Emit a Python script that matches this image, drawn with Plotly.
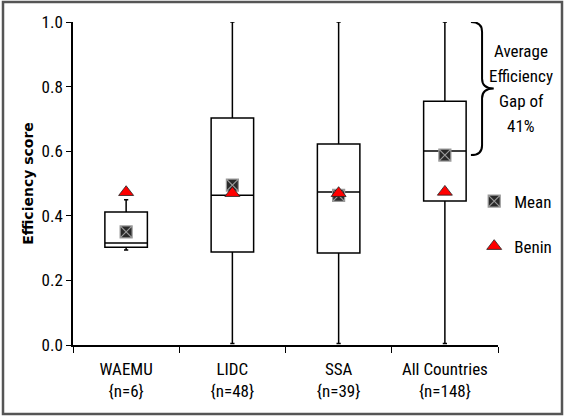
import plotly.graph_objects as go

categories = ["WAEMU<br>{n=6}", "LIDC<br>{n=48}", "SSA<br>{n=39}", "All Countries<br>{n=148}"]
q1 = [0.303, 0.288, 0.285, 0.446]
median = [0.316, 0.464, 0.474, 0.601]
q3 = [0.412, 0.703, 0.622, 0.755]
lower = [0.294, 0.005, 0.005, 0.005]
upper = [0.45, 1.0, 1.0, 1.0]
mean = [0.350, 0.495, 0.463, 0.588]
benin = [0.473, 0.470, 0.470, 0.474]
gap_lines = ["Average", "Efficiency", "Gap of", "41%"]

FONT = "Roboto Condensed, Liberation Sans Narrow, Open Sans, sans-serif"

fig = go.Figure()
fig.add_trace(go.Box(
    x=categories, q1=q1, median=median, q3=q3,
    lowerfence=lower, upperfence=upper,
    fillcolor="white", line=dict(color="black", width=1.5),
    whiskerwidth=0.1, width=0.4, showlegend=False, hoverinfo="skip",
))
fig.add_trace(go.Scatter(
    x=categories, y=mean, mode="markers", name="Mean", legendgroup="a",
    marker=dict(symbol="square-x", size=12, color="#2a2a2a",
                line=dict(color="#9a9a9a", width=1.2)),
))
fig.add_trace(go.Scatter(
    x=categories, y=benin, mode="markers", name="Benin", legendgroup="b",
    marker=dict(symbol="triangle-up", size=13, color="#ff0000",
                line=dict(color="#222", width=0.8)),
))

# curly brace for efficiency gap (All Countries: 1.0 to mean)
top = upper[3]
bot = mean[3]
mid = (top + bot) / 2
xa, xb, xc = 3.245, 3.35, 3.46
path = (f"M {xa},{top} Q {xb},{top} {xb},{top-0.03} "
        f"L {xb},{mid+0.03} Q {xb},{mid} {xc},{mid} "
        f"Q {xb},{mid} {xb},{mid-0.03} "
        f"L {xb},{bot+0.03} Q {xb},{bot} {xa},{bot}")
fig.add_shape(type="path", path=path, xref="x", yref="y",
              line=dict(color="black", width=2))

line_step = 0.077
for i, t in enumerate(gap_lines):
    fig.add_annotation(
        text=t, xref="paper", yref="y", x=1.055,
        y=mid + (1.5 - i) * line_step, xanchor="center", yanchor="middle",
        showarrow=False, font=dict(family=FONT, size=17, color="black"),
    )

# outer frame
pw, ph = 425, 323
fig.add_shape(type="rect", xref="paper", yref="paper",
              x0=-70 / pw, x1=1 + 64 / pw, y0=-69 / ph, y1=1 + 20 / ph,
              line=dict(color="#555555", width=2.5), layer="above")

fig.update_layout(
    width=565, height=416,
    margin=dict(l=73, r=67, t=22, b=71, autoexpand=False),
    paper_bgcolor="white", plot_bgcolor="white",
    font=dict(family=FONT, size=16, color="black"),
    legend=dict(x=0.944, y=0.50, xanchor="left", yanchor="top",
                tracegroupgap=20, traceorder="grouped",
                font=dict(family=FONT, size=17), itemwidth=30,
                bgcolor="rgba(0,0,0,0)"),
    xaxis=dict(range=[-0.5, 3.5], showline=True, linecolor="black", linewidth=1.5,
               ticks="outside", tickson="boundaries", ticklen=6, tickcolor="black",
               ticklabelstandoff=8,
               showgrid=False, tickfont=dict(family=FONT, size=17)),
    yaxis=dict(range=[0, 1.0], showline=True, linecolor="black", linewidth=1.5,
               ticks="outside", ticklen=5, tickcolor="black",
               tickvals=[0, 0.2, 0.4, 0.6, 0.8, 1.0], tickformat=".1f",
               showgrid=False, zeroline=False, tickfont=dict(family=FONT, size=17),
               title=dict(text="<b>Efficiency score</b>", standoff=5,
                          font=dict(family="Verdana, DejaVu Sans, sans-serif", size=14))),
)

fig.write_html("out.html", config={"displayModeBar": False},
               post_script="document.body.style.margin='0px';")
